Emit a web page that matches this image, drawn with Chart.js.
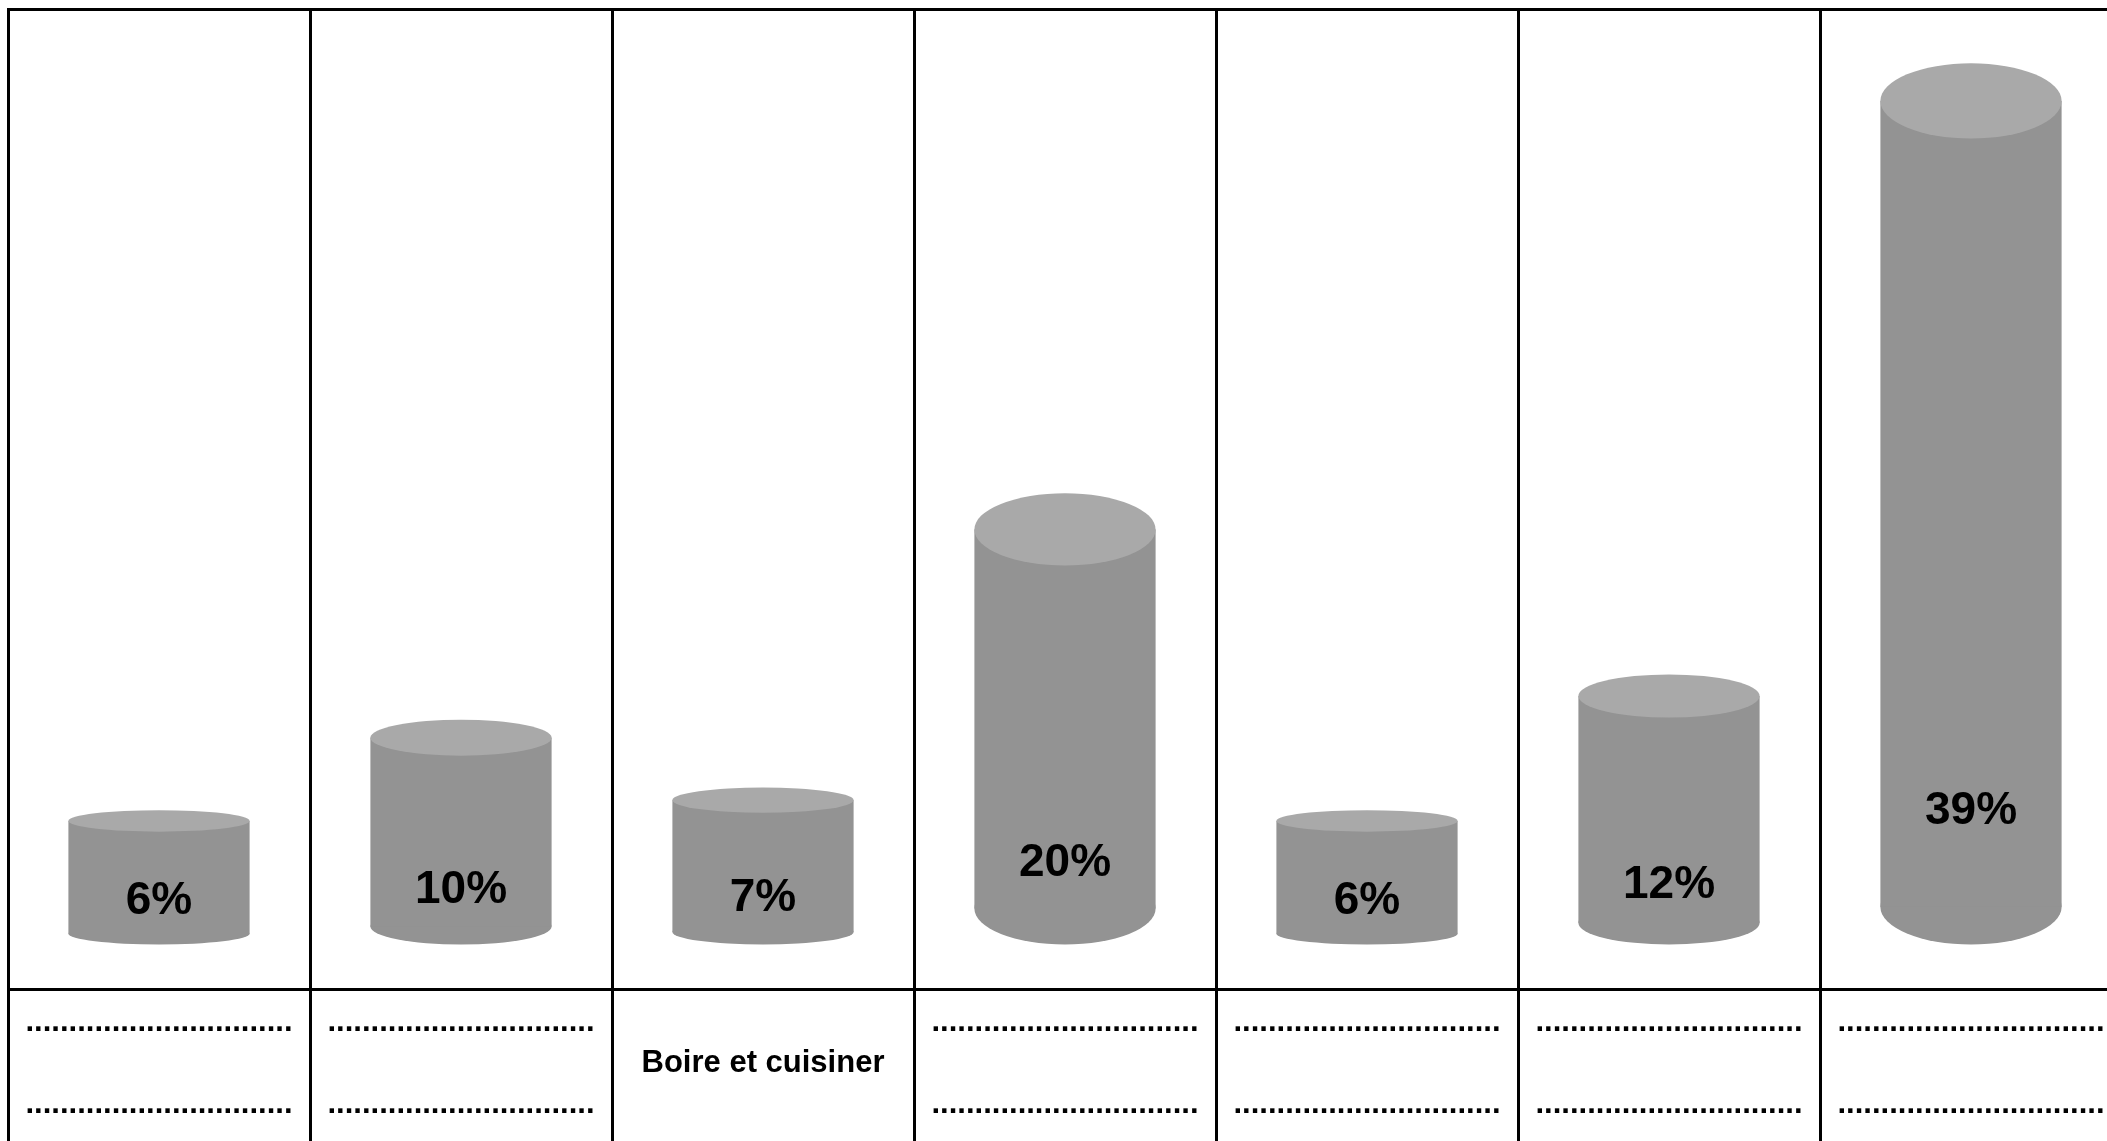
<!DOCTYPE html>
<html>
<head>
<meta charset="utf-8">
<title>Utilisation de l'eau</title>
<script src="https://cdn.jsdelivr.net/npm/chart.js@4.4.0/dist/chart.umd.min.js"></script>
<style>
  html, body { margin: 0; padding: 0; background: #fff; overflow: hidden; }
  canvas { display: block; }
</style>
</head>
<body>
<canvas id="chartEau" width="2130" height="1141"></canvas>
<script>
// ---- Données ----
// les cases pointillées sont à remplir (fiche d'exercice)
const DOTS = '...............................';
const categories = [
  [DOTS, DOTS],
  [DOTS, DOTS],
  'Boire et cuisiner',
  [DOTS, DOTS],
  [DOTS, DOTS],
  [DOTS, DOTS],
  [DOTS, DOTS]
];
const values = [6, 10, 7, 20, 6, 12, 39];
const valueLabels = ['6%', '10%', '7%', '20%', '6%', '12%', '39%'];

// bornes de l'axe vertical (caché)
const yMin = -1.9;
const yMax = 41.4;

// ---- Style ----
const bodyColor = '#939393';
const topColor = '#a9a9a9';
const fontFamily = '"Liberation Sans", Arial, sans-serif';

// dessine chaque barre comme un cylindre + étiquette
const cylinderPlugin = {
  id: 'cylinders',
  afterDatasetsDraw(chart) {
    const ctx = chart.ctx;
    const meta = chart.getDatasetMeta(0);
    meta.data.forEach((bar, i) => {
      const p = bar.getProps(['x', 'y', 'base', 'width'], true);
      const half = p.width / 2;
      const h = p.base - p.y;
      const ry = Math.min(h * 0.08, 37.6);

      ctx.save();
      ctx.fillStyle = bodyColor;
      ctx.beginPath();
      ctx.ellipse(p.x, p.base - ry, half, ry, 0, 0, Math.PI * 2);
      ctx.fill();
      ctx.fillRect(p.x - half, p.y + ry, p.width, h - 2 * ry);

      ctx.fillStyle = topColor;
      ctx.beginPath();
      ctx.ellipse(p.x, p.y + ry, half, ry, 0, 0, Math.PI * 2);
      ctx.fill();

      ctx.fillStyle = '#000';
      ctx.font = 'bold 46px ' + fontFamily;
      ctx.textAlign = 'center';
      ctx.textBaseline = 'middle';
      ctx.fillText(valueLabels[i], p.x, p.base - (27 + 0.12 * h));
      ctx.restore();
    });
  }
};

const ctx = document.getElementById('chartEau').getContext('2d');

new Chart(ctx, {
  type: 'bar',
  data: {
    labels: categories,
    datasets: [{
      data: values,
      backgroundColor: 'transparent',
      borderWidth: 0,
      barPercentage: 0.6,
      categoryPercentage: 1
    }]
  },
  options: {
    responsive: false,
    animation: false,
    layout: {
      padding: { left: 8, right: 8, top: 9, bottom: 0 }
    },
    plugins: {
      legend: { display: false },
      tooltip: { enabled: false }
    },
    scales: {
      x: {
        grid: {
          color: '#000',
          lineWidth: 3,
          tickLength: 152,
          offset: true
        },
        border: { color: '#000', width: 3 },
        ticks: {
          color: '#000',
          font: { family: fontFamily, size: 31, weight: 'bold', lineHeight: 2.65 },
          padding: -119,
          crossAlign: 'center',
          maxRotation: 0,
          minRotation: 0,
          autoSkip: false
        },
        afterFit: (scale) => { scale.height = 152; }
      },
      y: {
        min: yMin,
        max: yMax,
        ticks: { display: false },
        grid: {
          drawTicks: false,
          lineWidth: 3,
          color: (c) => c.index === c.scale.ticks.length - 1 ? '#000' : 'transparent'
        },
        border: { display: true, color: '#000', width: 3 },
        afterFit: (scale) => { scale.width = 0; }
      }
    }
  },
  plugins: [cylinderPlugin]
});
</script>
</body>
</html>
